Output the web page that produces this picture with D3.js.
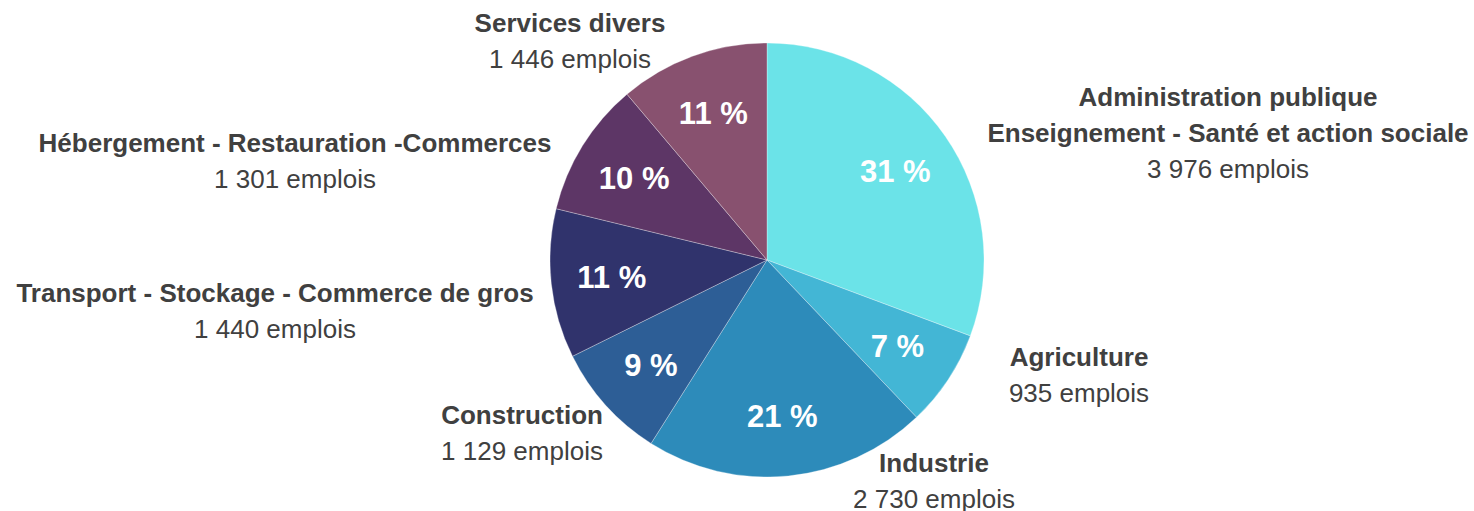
<!DOCTYPE html>
<html><head><meta charset="utf-8">
<script src="https://cdn.jsdelivr.net/npm/d3@7"></script>
<style>body{margin:0;background:#fff}svg{display:block}text{font-family:"Liberation Sans",Arial,sans-serif}</style>
</head><body>
<svg id="c" width="1474" height="511"></svg>
<script>
const categories = ["Administration publique\nEnseignement - Santé et action sociale","Agriculture","Industrie","Construction","Transport - Stockage - Commerce de gros","Hébergement - Restauration -Commerces","Services divers"];
const emplois = [3976, 935, 2730, 1129, 1440, 1301, 1446];
const emploiLabels = ["3 976 emplois","935 emplois","2 730 emplois","1 129 emplois","1 440 emplois","1 301 emplois","1 446 emplois"];
const colors = ["#6BE3E8","#43B6D5","#2D8BBA","#2D5E96","#30336C","#5D3666","#88516F"];
// layout: outer label centre (relative to pie centre) – x, y of first baseline
const labelPos = [[461,-154],[312,106],[167,212],[-245,164],[-492,42],[-472,-108],[-197,-228]];

const W=1474,H=511, cx=767, cy=260, R=217;
const svg=d3.select("#c");
const g=svg.append("g").attr("transform",`translate(${cx},${cy})`);
const data=categories.map((c,i)=>({c,v:emplois[i],e:emploiLabels[i],col:colors[i],lp:labelPos[i]}));
const pie=d3.pie().value(d=>d.v).sort(null);
const arcs=pie(data);
const arc=d3.arc().innerRadius(0).outerRadius(R);
const total=d3.sum(emplois);
g.selectAll("path").data(arcs).join("path").attr("d",arc).attr("fill",d=>d.data.col).attr("stroke","#ffffff").attr("stroke-width",0.6).attr("stroke-opacity",0.5);
const inner=d3.arc().innerRadius(R*0.72).outerRadius(R*0.72);
g.selectAll("text.pct").data(arcs).join("text").attr("class","pct")
 .attr("transform",d=>`translate(${inner.centroid(d)})`).attr("text-anchor","middle").attr("dy","0.36em")
 .attr("fill","#fff").attr("font-weight","bold").attr("font-size",31)
 .text(d=>Math.round(d.data.v/total*100)+" %");
const lab=g.selectAll("g.lab").data(arcs).join("g").attr("class","lab")
 .attr("transform",d=>`translate(${d.data.lp[0]},${d.data.lp[1]})`);
lab.each(function(d){
  const s=d3.select(this);
  const lines=d.data.c.split("\n");
  lines.forEach((l,i)=>s.append("text").attr("y",i*36).attr("text-anchor","middle").attr("fill","#404040").attr("font-weight","bold").attr("font-size",26).text(l));
  s.append("text").attr("y",lines.length*36).attr("text-anchor","middle").attr("fill","#404040").attr("font-size",26).text(d.data.e);
});
</script></body></html>
